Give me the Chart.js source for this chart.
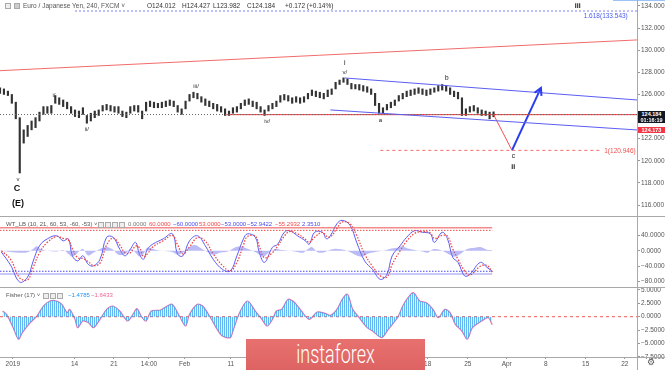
<!DOCTYPE html>
<html><head><meta charset="utf-8">
<script src="https://cdn.jsdelivr.net/npm/chart.js@4.4.1/dist/chart.umd.min.js"></script>
<style>
html,body{margin:0;padding:0;background:#fff;}
body{width:665px;height:370px;position:relative;overflow:hidden;font-family:"Liberation Sans",Arial,sans-serif;}
canvas{position:absolute;left:0;}
.t{position:absolute;white-space:nowrap;font-size:6.5px;line-height:8px;color:#555;}
.s{font-size:6px;}
.ico{position:absolute;width:4px;height:4px;border:1px solid #aaa;background:#eee;}
.hl{position:absolute;left:0;width:665px;height:1px;background:#a8a8a8;}
.box{position:absolute;left:638px;width:27px;height:6px;font-size:5.5px;line-height:6px;color:#fff;text-align:center;font-weight:bold;}
</style></head><body>
<canvas id="main" width="665" height="216" style="top:0"></canvas>
<canvas id="wt" width="665" height="71" style="top:216px"></canvas>
<canvas id="fis" width="665" height="83" style="top:287px"></canvas>

<div style="position:absolute;left:613px;top:0;width:52px;height:1px;background:#9cc3f5"></div>
<div class="hl" style="top:216px"></div>
<div class="hl" style="top:287px"></div>
<div class="hl" style="top:357px"></div>
<div style="position:absolute;left:637px;top:0;width:1px;height:370px;background:#a8a8a8"></div>

<!-- main header -->
<div class="ico" style="left:5px;top:3px"></div>
<div class="ico" style="left:14px;top:3px;background:#ccc"></div>
<div class="t" style="left:23px;top:2px">Euro / Japanese Yen, 240, FXCM ˅</div>
<div class="t" style="left:147px;top:2px;color:#333">O124.012</div>
<div class="t" style="left:182px;top:2px;color:#333">H124.427</div>
<div class="t" style="left:213px;top:2px;color:#333">L123.982</div>
<div class="t" style="left:247px;top:2px;color:#333">C124.184</div>
<div class="t" style="left:285px;top:2px;color:#333">+0.172 (+0.14%)</div>

<!-- price labels on axis -->
<div class="box" style="top:111px;background:#131722">124.184</div>
<div class="box" style="top:117px;background:#131722">01:16:19</div>
<div class="box" style="top:126.5px;background:#f23645">124.173</div>

<!-- WT header -->
<div class="t s" style="left:6px;top:220px">WT_LB (10, 21, 60, 53, -60, -53) ˅</div>
<div class="ico" style="left:98px;top:222px"></div>
<div class="ico" style="left:105px;top:222px"></div>
<div class="ico" style="left:112px;top:222px"></div>
<div class="ico" style="left:119px;top:222px"></div>
<div class="t s" style="left:128px;top:220px;color:#777">0.0000</div>
<div class="t s" style="left:149px;top:220px;color:#f04848">60.0000</div>
<div class="t s" style="left:173px;top:220px;color:#4a4af0">−60.0000</div>
<div class="t s" style="left:199px;top:220px;color:#f04848">53.0000</div>
<div class="t s" style="left:221px;top:220px;color:#4a4af0">−53.0000</div>
<div class="t s" style="left:247px;top:220px;color:#4a4af0">−52.9422</div>
<div class="t s" style="left:275px;top:220px;color:#f04848">−55.2932</div>
<div class="t s" style="left:302px;top:220px;color:#4a4af0">2.3510</div>

<!-- Fisher header -->
<div class="t s" style="left:6px;top:291px">Fisher (17) ˅</div>
<div class="ico" style="left:43px;top:293px"></div>
<div class="ico" style="left:50px;top:293px"></div>
<div class="ico" style="left:57px;top:293px"></div>
<div class="t s" style="left:68px;top:291px;color:#2196f3">−1.4785</div>
<div class="t s" style="left:91px;top:291px;color:#f06292">−1.6433</div>

<div class="t" style="left:647px;top:357px;font-size:9px;line-height:11px;color:#555">⚙</div>

<!-- watermark -->
<div style="position:absolute;left:246px;top:339px;width:179px;height:40px;background:linear-gradient(#e8706f,#d9605f);"></div>
<div style="position:absolute;left:246px;top:340px;width:179px;text-align:center;color:#fff;font-family:Roboto,'Open Sans',sans-serif;font-weight:300;font-size:25px;line-height:30px;transform:scaleX(0.72);">instaforex</div>

<script>
// ---------- data ----------
const sampleStep = 3; // 4H bars per price sample (half day)
const priceLow  = [126.1,126.0,125.9,125.2,123.8,118.9,121.6,122.2,122.8,123.0,123.6,124.2,124.3,124.3,125.2,125.1,124.9,124.7,124.3,124.0,123.9,124.2,123.4,123.6,123.9,124.1,124.5,124.6,124.5,124.4,124.3,124.0,123.9,124.3,124.5,124.4,123.8,124.5,124.9,124.8,124.8,124.8,124.9,125.0,124.9,124.4,124.2,124.7,125.4,125.7,125.6,125.3,125.0,124.9,124.7,124.5,124.4,124.1,124.1,124.3,124.4,124.7,125.0,125.1,124.9,124.7,124.4,124.1,124.5,124.7,124.9,125.3,125.5,125.4,125.2,125.3,125.2,125.3,125.6,125.9,125.8,125.7,125.6,125.8,126.0,126.5,126.9,127.1,126.9,126.5,126.5,126.4,126.3,126.2,126.0,125.0,124.3,124.3,124.6,124.8,125.0,125.4,125.6,125.8,125.9,126.0,126.1,126.0,125.9,126.0,126.2,126.3,126.4,126.3,126.0,125.8,125.6,124.1,124.1,124.4,124.5,124.3,124.1,124.1,123.8,123.982];
const priceHigh = [126.6,126.5,126.3,126.0,125.3,123.9,122.8,123.2,123.6,123.9,124.4,124.9,124.9,125.0,125.9,125.7,125.5,125.3,124.9,124.6,124.5,124.8,124.1,124.3,124.5,124.6,125.0,125.1,125.0,124.9,124.9,124.5,124.4,124.9,125.0,125.0,124.5,125.3,125.4,125.3,125.2,125.3,125.4,125.5,125.4,125.0,124.7,125.4,126.0,126.2,126.1,125.8,125.6,125.4,125.2,125.1,124.9,124.7,124.5,124.8,124.9,125.2,125.5,125.6,125.4,125.3,124.9,124.6,125.0,125.2,125.4,125.9,126.0,125.9,125.7,125.8,125.7,125.8,126.1,126.4,126.3,126.2,126.1,126.4,126.5,127.1,127.3,127.5,127.4,127.0,126.9,126.9,126.8,126.7,126.5,126.1,125.2,124.8,125.1,125.3,125.5,125.9,126.1,126.3,126.4,126.5,126.6,126.5,126.4,126.5,126.6,126.8,126.9,126.8,126.6,126.3,126.2,125.7,124.7,124.9,125.0,124.8,124.6,124.5,124.4,124.427];
const priceTicks = [116,118,120,122,126,128,130,132,134];

const timeTickPos    = [9.7,56.7,86.6,113.2,140.2,175.4,325,355.4,385,414.7,445,474.7];
const timeTickLabels = ['2019','14','21','14:00','Feb','11','18','25','Apr','8','15','22'];

// drawings (bar index, price)
const trendRed   = [[0,128.15],[484,130.93]];
const chanUpper  = [[262,127.49],[484,125.50]];
const chanLower  = [[251,124.60],[484,122.79]];
const redLevel   = [[172,124.173],[484,124.173]];
const closeLevel = [[0,124.184],[484,124.184]];
const fibTopLine = [[57,133.543],[484,133.543]];
const fibLowLine = [[289,120.946],[456,120.946]];
const projDown   = [[375,124.184],[389,120.95]];
const projUp     = [[389,120.95],[411,126.59]];

const waveLabels = [
  {t:'iii', b:439, p:134.0, s:7, bold:true, c:'#111'},
  {t:'1.618(133.543)', b:477, p:133.12, s:6.5, c:'#4a5cf0', align:'right'},
  {t:'i', b:262, p:128.87, s:7, c:'#111'},
  {t:'v/', b:262, p:127.97, s:6, c:'#333'},
  {t:'b', b:339.5, p:127.49, s:6.5, c:'#111'},
  {t:'a', b:289, p:123.69, s:6, c:'#111'},
  {t:'c', b:390, p:120.46, s:6.5, c:'#111'},
  {t:'ii', b:390, p:119.44, s:7, bold:true, c:'#111'},
  {t:'i/', b:41, p:125.89, s:6, c:'#333'},
  {t:'ii/', b:66, p:122.88, s:6, c:'#333'},
  {t:'iii/', b:149, p:126.77, s:6, c:'#333'},
  {t:'iv/', b:203, p:123.6, s:6, c:'#333'},
  {t:'v', b:13.7, p:118.36, s:6, c:'#333'},
  {t:'C', b:13, p:117.45, s:9, bold:true, c:'#111'},
  {t:'(E)', b:13.7, p:116.1, s:9, bold:true, c:'#111'},
  {t:'1(120.946)', b:483, p:120.84, s:6.5, c:'#f05050', align:'right'}
];

const wtBars = [1,8,15,21,25,30,36,43,48,52,55,59,63,67,71,76,81,86,91,95,99,103,106,109,112,116,124,131,135,139,144,150,156,162,169,175,180,185,188,194,197,201,207,211,216,220,226,232,235,239,245,248,251,256,260,266,271,277,283,289,294,298,304,309,315,321,327,330,336,340,344,348,353,357,365,370,374];
const wt1 = [-3,-37,-81,-68,-29,13,31,39,26,31,-13,-26,-13,-35,-39,-22,35,35,4,-13,4,22,-9,-22,4,17,31,44,-9,-13,26,39,13,-22,-48,-52,-13,31,44,35,-4,-30,9,17,48,52,39,26,17,48,48,31,39,70,79,66,22,-26,-48,-74,-61,-13,13,35,52,48,44,22,48,31,-17,-30,-65,-61,-30,-43,-52.94];
const wt2 = [0,-22,-70,-75,-45,-5,22,37,32,28,5,-18,-20,-28,-38,-32,15,33,15,-5,-5,12,8,-15,-8,10,26,40,15,-8,10,34,25,-8,-38,-52,-30,15,37,38,12,-18,-5,12,38,50,44,30,22,35,48,38,36,58,75,70,40,-8,-40,-65,-68,-35,0,25,45,50,46,32,40,38,5,-22,-52,-63,-40,-38,-55.29];
const wtHistBars = [0,8,15,21,25,28,30,36,43,48,52,55,59,63,67,71,76,81,86,90,95,99,103,106,109,112,118,124,131,135,139,144,148,152,157,162,167,173,178,182,186,190,195,200,204,209,213,220,226,230,234,237,241,245,251,256,262,267,271,275,279,285,291,296,302,305,310,315,321,325,329,334,339,343,346,351,355,361,365,370,374];
const wtHist = [0,-3,-5,-4,5,12,6,0,-2,2,-8,-15,-5,5,-12,-5,5,10,3,-10,-8,5,-5,-15,-8,8,3,0,-3,-10,-5,10,15,8,-2,-10,-5,-2,8,12,8,3,-5,-15,-5,5,3,0,-3,-5,5,10,-3,-5,3,5,2,-5,-12,-15,-8,-3,0,5,8,12,6,2,-2,-5,4,3,-5,-12,-15,-5,5,8,10,3,2.35];
const wtLevels = [60,53,-53,-60];
const wtTicks = [40,0,-40,-80];

const fisherBars = [2,5,10,14,17,23,28,33,38,43,47,51,53,57,59,63,67,71,76,81,86,91,97,101,104,108,111,115,122,127,131,137,141,144,150,154,160,165,169,175,177,182,188,194,199,203,207,210,214,219,224,229,235,241,247,251,256,260,264,268,273,279,283,290,295,302,306,310,314,319,324,329,333,338,342,346,351,355,359,366,371,374];
const fisher = [1.06,0.44,-2.05,-4.2,-2.97,-1.1,0.1,1.99,2.93,2.93,2.3,0.75,1.37,-0.5,-2.05,-0.8,-1.1,-2.05,-0.5,1.37,1.99,1.06,-0.8,0.44,1.5,-0.2,-0.8,1.06,1.25,1.99,2.3,-0.2,-1.74,0.44,2.3,1.99,-0.2,-2.36,-3.6,-3.9,-2.67,0.75,2.93,1.06,-0.5,-1.74,-0.5,1.06,1.37,3.24,2.6,1.06,-0.5,0.87,0.62,0.25,1.37,3.24,4.2,1.37,-0.2,-2.05,-2.67,-3.9,-2.36,-0.2,1.99,3.55,4.48,2.93,2.6,1.37,-0.2,1.37,0.75,-1.43,-2.67,-4.2,-2.05,-0.8,-0.2,-1.48];
const fisherTicks = [5,2.5,0,-2.5,-5,-7.5];

// ---------- helpers ----------
const FONT = '"Liberation Sans", Arial, sans-serif';
const pts = a => a.map(p => ({x:p[0], y:p[1]}));
function seg(a, color, width, dash){
  return {type:'line', data:pts(a), borderColor:color, borderWidth:width, borderDash:dash||[], pointRadius:0, fill:false, tension:0};
}
function fmt4(v){ return (v<0?'\u2212':'') + Math.abs(v).toFixed(4); }
function yAxis(min, max, ticks, fmt){
  return {
    position:'right', min, max,
    afterBuildTicks: s => { s.ticks = ticks.map(v => ({value:v})); },
    afterFit: s => { s.width = 28; s.paddingTop = 0; s.paddingBottom = 0; },
    ticks:{font:{size:6.5, family:FONT}, color:'#555', padding:1, callback: v => fmt(v)},
    grid:{drawOnChartArea:false, tickLength:3, color:'#999'},
    border:{display:false}
  };
}
const xHidden = {type:'linear', min:0, max:484, offset:false, display:false};
const base = {responsive:false, animation:false, devicePixelRatio:1, layout:{padding:0},
  plugins:{legend:{display:false}, tooltip:{enabled:false}}};

// ---------- main chart ----------
const mainOverlay = {id:'mainOverlay', afterDatasetsDraw(chart){
  const {ctx, scales:{x, y}} = chart;
  ctx.save();
  ctx.textBaseline = 'middle';
  waveLabels.forEach(l => {
    ctx.font = (l.bold ? 'bold ' : '') + l.s + 'px ' + FONT;
    ctx.fillStyle = l.c; ctx.textAlign = l.align || 'center';
    ctx.fillText(l.t, x.getPixelForValue(l.b), y.getPixelForValue(l.p));
  });
  const x1 = x.getPixelForValue(projUp[0][0]), y1 = y.getPixelForValue(projUp[0][1]);
  const x2 = x.getPixelForValue(projUp[1][0]), y2 = y.getPixelForValue(projUp[1][1]);
  const ang = Math.atan2(y2 - y1, x2 - x1);
  ctx.strokeStyle = '#2a3cf0'; ctx.lineWidth = 2;
  ctx.beginPath();
  ctx.moveTo(x2 - 8*Math.cos(ang - 0.5), y2 - 8*Math.sin(ang - 0.5));
  ctx.lineTo(x2, y2);
  ctx.lineTo(x2 - 8*Math.cos(ang + 0.5), y2 - 8*Math.sin(ang + 0.5));
  ctx.stroke();
  ctx.restore();
}};

new Chart(document.getElementById('main'), {
  type:'bar',
  data:{datasets:[
    seg(trendRed, '#f26b6b', 1),
    seg(chanUpper, '#5b5ef2', 1),
    seg(chanLower, '#5b5ef2', 1),
    seg(closeLevel, '#666', 1, [1,2]),
    seg(redLevel, '#e53935', 1),
    seg(fibTopLine, '#7a7ff2', 1, [2,2]),
    seg(fibLowLine, '#f26b6b', 1, [3,3]),
    seg(projDown, '#f05050', 1),
    seg(projUp, '#2a3cf0', 2),
    {type:'bar', data: priceLow.map((l, i) => ({x: i*sampleStep, y:[l, priceHigh[i]]})),
     backgroundColor:'#333', barThickness:1.5, grouped:false}
  ]},
  options:{...base, scales:{x:xHidden, y:yAxis(115.01, 134.54, priceTicks, v => v.toFixed(3))}},
  plugins:[mainOverlay]
});

// ---------- WT chart ----------
new Chart(document.getElementById('wt'), {
  type:'line',
  data:{datasets:[
    {data: wtHistBars.map((b,i)=>({x:b, y:wtHist[i]})), borderWidth:0, backgroundColor:'rgba(120,120,235,0.5)', fill:'origin', pointRadius:0, tension:0.35},
    seg([[0,wtLevels[0]],[374,wtLevels[0]]], 'rgba(240,90,90,0.7)', 1.5),
    seg([[0,wtLevels[1]],[374,wtLevels[1]]], '#f04848', 1, [1.5,1.5]),
    seg([[0,wtLevels[2]],[374,wtLevels[2]]], '#4a4af0', 1, [1.5,1.5]),
    seg([[0,wtLevels[3]],[374,wtLevels[3]]], 'rgba(110,110,240,0.5)', 1.5),
    {data: wtBars.map((b,i)=>({x:b, y:wt2[i]})), borderColor:'#f04848', borderWidth:1.3, borderDash:[1.5,1.5], pointRadius:0, fill:false, tension:0.4},
    {data: wtBars.map((b,i)=>({x:b, y:wt1[i]})), borderColor:'#5a5af5', borderWidth:1, pointRadius:0, fill:false, tension:0.4}
  ]},
  options:{...base, scales:{x:xHidden, y:yAxis(-93.8, 90.2, wtTicks, fmt4)}}
});

// ---------- Fisher chart ----------
const fisCtx = document.getElementById('fis').getContext('2d');
const pc = document.createElement('canvas'); pc.width = 2; pc.height = 1;
const pctx = pc.getContext('2d');
pctx.fillStyle = 'rgba(60,165,240,0.8)'; pctx.fillRect(0,0,1,1);
pctx.fillStyle = 'rgba(60,165,240,0.15)'; pctx.fillRect(1,0,1,1);
const stripe = fisCtx.createPattern(pc, 'repeat');

new Chart(fisCtx, {
  type:'line',
  data:{datasets:[
    {data: fisherBars.map((b,i)=>({x:b, y:fisher[i]})), borderWidth:0, backgroundColor:stripe, fill:'origin', pointRadius:0, tension:0.3},
    seg([[0,0],[484,0]], '#f05a5a', 1, [3,3]),
    {data: fisherBars.map((b,i)=>({x:b, y:fisher[i]})), borderColor:'#ef6fa3', borderWidth:1.2, pointRadius:0, fill:false, tension:0.3}
  ]},
  options:{...base, scales:{
    x:{type:'linear', min:0, max:484, offset:false, position:'bottom',
       afterBuildTicks: s => { s.ticks = timeTickPos.map(v => ({value:v})); },
       afterFit: s => { s.height = 13; s.paddingLeft = 0; s.paddingRight = 0; },
       ticks:{autoSkip:false, maxRotation:0, minRotation:0, padding:1, font:{size:6.5, family:FONT}, color:'#555',
              callback:(v,i) => timeTickLabels[i]},
       grid:{drawOnChartArea:false, tickLength:2, color:'#999'}, border:{display:false}},
    y:yAxis(-7.52, 5.54, fisherTicks, fmt4)
  }}
});
</script>
</body></html>
